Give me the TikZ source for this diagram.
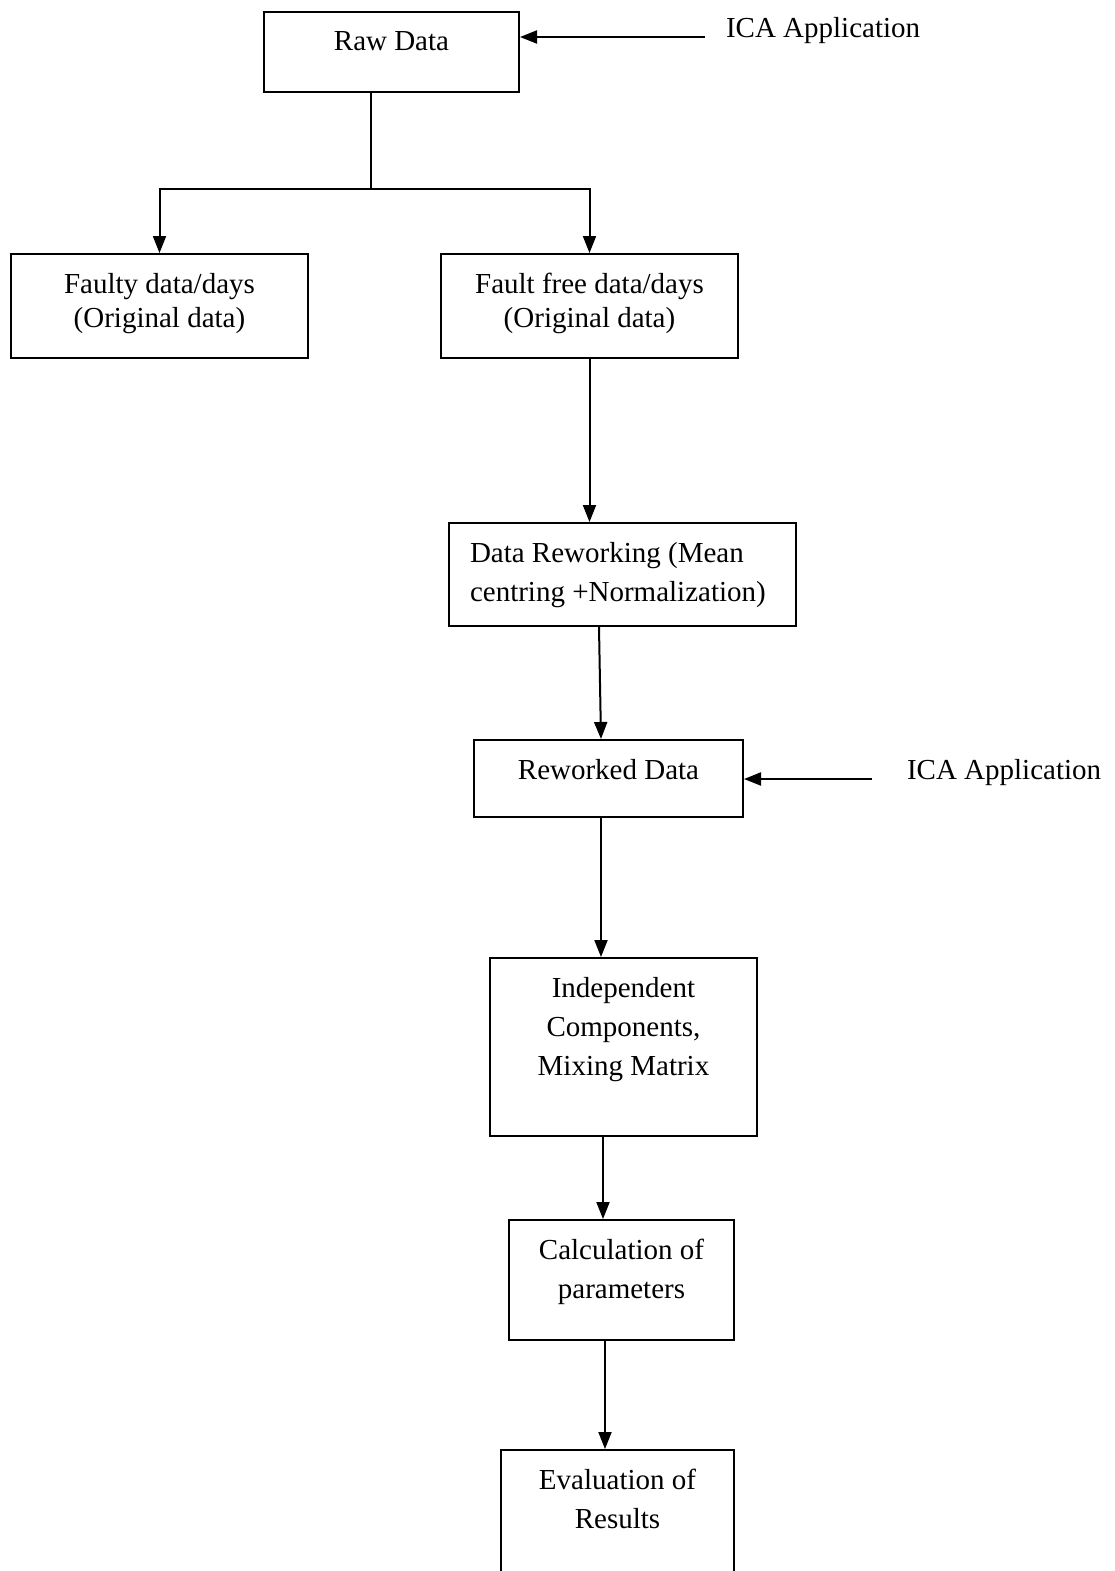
\documentclass[tikz,border=0pt]{standalone}
\usepackage{fontspec}
\setmainfont{Liberation Serif}
\usetikzlibrary{arrows.meta}
\newlength{\pxu}
\setlength{\pxu}{0.5pt}
\newcommand{\boxtext}[3]{\parbox[c][#2\pxu][t]{#1\pxu}{\centering\vspace*{9.5pt}#3}}
\tikzset{%
        x = 0.5pt,
        y = -0.5pt,
        > = {Triangle[length=8.5pt, width=6.5pt]},
        every picture/.style = {line width = 1pt}
}
\tikzstyle{block}=[
    draw = black,
    line width = 1pt,
    inner sep = 0pt,
    font = \fontsize{14.5}{19.5}\selectfont
]
\tikzstyle{side}=[
    inner ysep = 0pt,
    font = \fontsize{14.5}{19.5}\selectfont
]

\begin{document}
\begin{tikzpicture}[line width = 1pt]
            \useasboundingbox (0, 0) rectangle (1115, 1571);
            \node[block] (raw) at (391.5, 52) {\boxtext{255}{80}{Raw Data}};
            \node[block] (faulty) at (159.5, 306) {\boxtext{297}{104}{\fontsize{14.5}{17}\selectfont Faulty data/days\\(Original data)}};
            \node[block] (free) at (589.5, 306) {\boxtext{297}{104}{\fontsize{14.5}{17}\selectfont Fault free data/days\\(Original data)}};
            \node[block] (rework) at (622.5, 574.5) {\boxtext{347}{103}{\raggedright\leftskip=10.5pt Data Reworking (Mean\\centring +Normalization)}};
            \node[block] (reworked) at (608.5, 778.5) {\boxtext{269}{77}{Reworked Data}};
            \node[block] (indep) at (623.5, 1047) {\boxtext{267}{178}{Independent\\Components,\\Mixing Matrix}};
            \node[block] (calc) at (621.5, 1280) {\boxtext{225}{120}{Calculation of\\parameters}};
            \node[block] (eval) at (617.5, 1520) {\boxtext{233}{140}{Evaluation of\\Results}};
            \node[side, inner xsep=10pt, anchor=base west] (ica1) at (705, 37) {ICA Application};
            \node[side, inner xsep=17pt, anchor=base west] (ica2) at (872, 779) {ICA Application};
            \coordinate (split) at (371, 189);

            \draw[->] (ica1.base west) -- (ica1.base west -| raw.east);
            \draw[->] (ica2.base west) -- (ica2.base west -| reworked.east);
            \draw (raw.south -| split) -- (split);
            \draw[->] (split) -| (faulty.north);
            \draw[->] (split) -| (free.north);
            \draw[->] (free.south) -- (free.south |- rework.north);
            \draw[->] ([xshift=-11.75pt]rework.south) -- ([xshift=-3.75pt]reworked.north);
            \draw[->] ([xshift=-3.75pt]reworked.south) -- ([xshift=-3.75pt]reworked.south |- indep.north);
            \draw[->] ([xshift=-10.25pt]indep.south) -- ([xshift=-10.25pt]indep.south |- calc.north);
            \draw[->] ([xshift=-8.25pt]calc.south) -- ([xshift=-8.25pt]calc.south |- eval.north);
        \end{tikzpicture}
\end{document}
